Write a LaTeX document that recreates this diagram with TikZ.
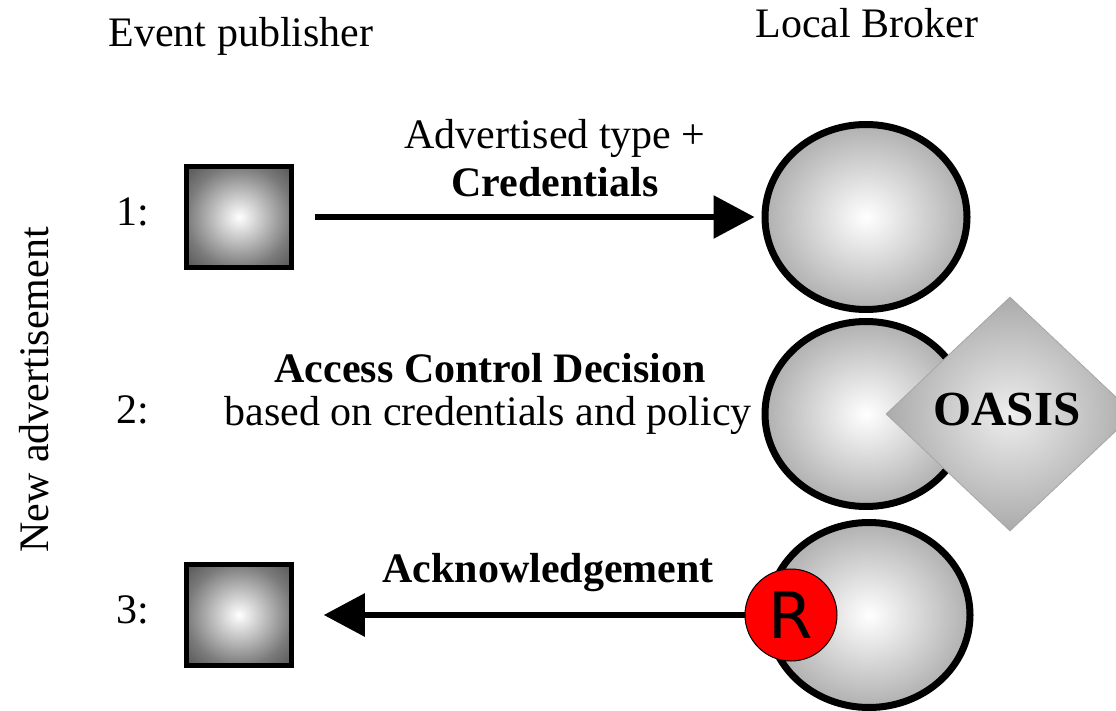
\documentclass[tikz,border=0pt]{standalone}
\usepackage{fontspec}
\setmainfont{Liberation Serif}
\newfontfamily\rsans{DejaVu Sans}
\usetikzlibrary{shapes.geometric,arrows.meta}

% radial fills: dark-edged publisher boxes, light broker spheres, OASIS diamond
\pgfdeclareradialshading{pubshade}{\pgfpoint{0bp}{0bp}}{color(0bp)=(white); color(25bp)=(black!52); color(35bp)=(black!66); color(50bp)=(black!66)}
\pgfdeclareradialshading{brokershade}{\pgfpoint{0bp}{0bp}}{color(0bp)=(white); color(25bp)=(black!31); color(50bp)=(black!31)}
\pgfdeclareradialshading{oasisshade}{\pgfpoint{0bp}{0bp}}{color(0bp)=(black!7); color(25bp)=(black!33); color(50bp)=(black!33)}

\begin{document}
\begin{tikzpicture}[x=1pt,y=-1pt,
  lbl/.style={inner sep=0pt, font=\fontsize{42}{50}\selectfont},
  publisher/.style={draw, line width=4.5pt, shade, shading=pubshade,
    minimum width=105pt, minimum height=101pt, inner sep=0pt},
  broker/.style={ellipse, draw, line width=7pt, shade, shading=brokershade,
    minimum width=202pt, minimum height=185pt, inner sep=0pt},
  oasisbox/.style={diamond, draw=black!35, line width=0.8pt, shade, shading=oasisshade,
    minimum width=248pt, minimum height=234pt, inner sep=0pt},
  replier/.style={circle, draw=black, line width=1pt, fill=red,
    minimum size=92pt, inner sep=0pt},
  msg/.style={line width=6pt, -{Triangle[length=41pt,width=42pt]}},
]
\fill[white] (0,0) rectangle (1116,711);
\clip (0,0) rectangle (1116,711);

% column headings and side caption
\node[lbl, anchor=base] (hpub) at (241,47) {Event publisher};
\node[lbl, anchor=base] (hbrk) at (867,38) {Local Broker};
\node[lbl, anchor=base, rotate=90] (side) at (48,390) {New advertisement};

% step numbers
\node[lbl, anchor=base west] (n1) at (116,226) {1:};
\node[lbl, anchor=base west] (n2) at (116,423) {2:};
\node[lbl, anchor=base west] (n3) at (116,623) {3:};

% step 1: advertisement sent to the broker
\node[publisher] (pub1) at (239,217) {};
\node[broker] (br1) at (866,217) {};
\draw[msg, shorten <=21pt, shorten >=7pt] (pub1.east) -- (br1.west);
\node[lbl, anchor=base] (t1a) at (555,149) {Advertised type +};
\node[lbl, anchor=base] (t1b) at (555,197) {\bfseries Credentials};

% step 2: access control decision by OASIS
\node[broker] (br2) at (866,414) {};
\node[oasisbox] (oasis) at (1010,414) {};
\node[inner sep=0pt, anchor=base, font=\fontsize{49}{56}\selectfont\bfseries] (oasislbl) at (1007,425) {OASIS};
\node[lbl, anchor=base] (t2a) at (490,382) {\bfseries Access Control Decision};
\node[lbl, anchor=base] (t2b) at (488,425) {based on credentials and policy};

% step 3: acknowledgement back to the publisher
\node[broker] (br3) at (869,615) {};
\node[replier] (rep) at (791,615) {};
\node[inner sep=0pt, anchor=base, font=\rsans\fontsize{64}{70}\selectfont] (replbl) at (791,638) {R};
\node[publisher] (pub3) at (239,615) {};
\draw[msg, shorten >=30pt] (rep.west) -- (pub3.east);
\node[lbl, anchor=base] (t3) at (548,582) {\bfseries Acknowledgement};
\end{tikzpicture}
\end{document}
